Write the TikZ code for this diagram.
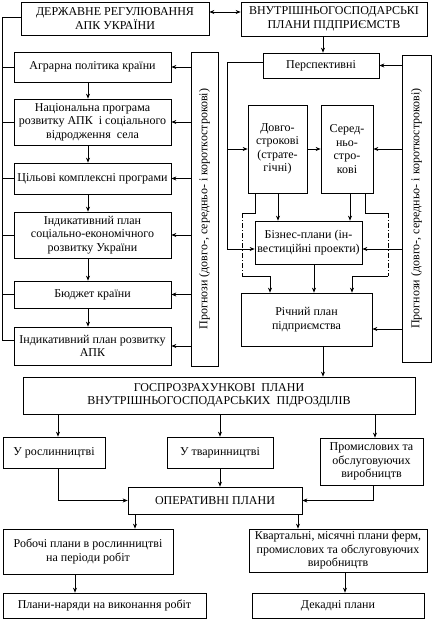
\documentclass[tikz,border=0pt]{standalone}
\usepackage{fontspec}
\setmainfont{Liberation Serif}
\usetikzlibrary{arrows.meta}
\begin{document}
\begin{tikzpicture}[x=1pt,y=-1pt,
  box/.style={draw, line width=0.7pt, inner sep=0pt, align=center, font=\fontsize{12}{13.5}\selectfont},
  arr/.style={-{Stealth[length=5pt,width=4pt]}, line width=0.7pt},
  darr/.style={{Stealth[length=5pt,width=4pt]}-{Stealth[length=5pt,width=4pt]}, line width=0.7pt},
  ln/.style={line width=0.7pt},
  dd/.style={line width=0.7pt, dash pattern=on 5pt off 2pt on 1pt off 2pt}]
\useasboundingbox (0,0) rectangle (432,619);
% top boxes
\node[box, minimum width=188pt, minimum height=33pt] (derzh) at (115,18.5) {ДЕРЖАВНЕ РЕГУЛЮВАННЯ\\АПК УКРАЇНИ};
\node[box, minimum width=186pt, minimum height=34pt] (vnutr) at (334,19) {ВНУТРІШНЬОГОСПОДАРСЬКІ\\ПЛАНИ ПІДПРИЄМСТВ};
% left column
\node[box, minimum width=157pt, minimum height=30pt] (agr) at (92.5,67) {Аграрна політика країни};
\node[box, minimum width=157pt, minimum height=46pt] (nats) at (92.5,122) {Національна програма\\розвитку АПК\ \ і соціального\\відродження\ \ села};
\node[box, minimum width=157pt, minimum height=31pt] (tsil) at (92.5,178.5) {Цільові комплексні програми};
\node[box, minimum width=157pt, minimum height=46pt] (indyk) at (92.5,235) {Індикативний план\\соціально-економічного\\розвитку України};
\node[box, minimum width=157pt, minimum height=27pt] (budg) at (92.5,294.5) {Бюджет країни};
\node[box, minimum width=157pt, minimum height=38pt] (indapk) at (92.5,346) {Індикативний план розвитку\\АПК};
\node[box, minimum width=27pt, minimum height=314pt] (progL) at (204.5,209) {\rotatebox{90}{Прогнози (довго-, середньо- і короткострокові)}};
% right column
\node[box, minimum width=116pt, minimum height=25pt] (persp) at (321,65.5) {Перспективні};
\node[box, minimum width=59pt, minimum height=88pt] (dovho) at (277.5,149) {Довго-\\строкові\\(страте-\\гічні)};
\node[box, minimum width=52pt, minimum height=88pt] (sered) at (347,149) {Серед-\\ньо-\\стро-\\кові};
\node[box, minimum width=107pt, minimum height=43pt] (biz) at (308.5,242.5) {Бізнес-плани (ін-\\вестиційні проекти)};
\node[box, minimum width=131pt, minimum height=53pt] (rich) at (306.5,319.5) {Річний план\\підприємства};
\node[box, minimum width=29pt, minimum height=307pt] (progR) at (416.5,208.5) {\rotatebox{90}{Прогнози (довго-, середньо- і короткострокові)}};
% lower part
\node[box, minimum width=392pt, minimum height=37pt] (hosp) at (219,395.5) {ГОСПРОЗРАХУНКОВІ\ \ ПЛАНИ\\ВНУТРІШНЬОГОСПОДАРСЬКИХ\ \ ПІДРОЗДІЛІВ};
\node[box, minimum width=102pt, minimum height=31pt] (rosl) at (54,452.5) {У рослинництві};
\node[box, minimum width=106pt, minimum height=31pt] (tvar) at (220,452.5) {У тваринництві};
\node[box, minimum width=103pt, minimum height=47pt] (prom) at (371.5,461.5) {Промислових та\\обслуговуючих\\виробництв};
\node[box, minimum width=174pt, minimum height=27pt] (oper) at (215,500.5) {ОПЕРАТИВНІ ПЛАНИ};
\node[box, minimum width=170pt, minimum height=45pt] (rob) at (88,551.5) {Робочі плани в рослинництві\\на періоди робіт};
\node[box, minimum width=178pt, minimum height=43pt] (kvart) at (338,550.5) {Квартальні, місячні плани ферм,\\промислових та обслуговуючих\\виробництв};
\node[box, minimum width=203pt, minimum height=25pt] (naryad) at (104.5,605.5) {Плани-наряди на виконання робіт};
\node[box, minimum width=172pt, minimum height=25pt] (dekad) at (338,605.5) {Декадні плани};
% helper coordinates
\coordinate (ty) at (0,12);
\coordinate (bt) at (2,17);
\coordinate (bb) at (2,340);
\coordinate (xl) at (88,0);
\coordinate (yb) at (0,249);
\coordinate (yr) at (0,329);
\coordinate (py) at (0,62);
\coordinate (lx) at (227,0);
\coordinate (x1) at (278,0);
\coordinate (x2) at (350,0);
\coordinate (x3) at (314,0);
\coordinate (x4) at (323,0);
\coordinate (dl1) at (255,213);
\coordinate (dl2) at (242,276);
\coordinate (dl3) at (270,0);
\coordinate (dr1) at (365,213);
\coordinate (dr2) at (388,276);
\coordinate (dr3) at (352,0);
\coordinate (xa) at (58,0);
\coordinate (xb) at (220,0);
\coordinate (xc) at (375,0);
\coordinate (xd) at (373,0);
\coordinate (xe) at (135,0);
\coordinate (xf) at (298,0);
\coordinate (xg) at (75,0);
\coordinate (xh) at (345,0);
% top link
\draw[darr] (derzh.east |- ty) -- (vnutr.west |- ty);
% left bus
\draw[ln] (derzh.west |- bt) -- (bt) -- (bb) -- (indapk.west |- bb);
\foreach \n in {agr,nats,tsil,indyk,budg} \draw[ln] (bt |- \n.west) -- (\n.west);
% left column chain
\draw[arr] (agr.south -| xl) -- (nats.north -| xl);
\draw[arr] (nats.south -| xl) -- (tsil.north -| xl);
\draw[arr] (tsil.south -| xl) -- (indyk.north -| xl);
\draw[arr] (indyk.south -| xl) -- (budg.north -| xl);
\draw[arr] (budg.south -| xl) -- (indapk.north -| xl);
% forecasts (left)
\foreach \n in {agr,nats,tsil,indyk,budg,indapk} \draw[arr] (progL.west |- \n.east) -- (\n.east);
% right column
\draw[arr] (vnutr.south -| x4) -- (persp.north -| x4);
\draw[arr] (progR.west |- persp.east) -- (persp.east);
\draw[arr] (progR.west |- sered.east) -- (sered.east);
\draw[arr] (progR.west |- yb) -- (biz.east |- yb);
\draw[arr] (progR.west |- yr) -- (rich.east |- yr);
\draw[arr] (persp.west |- py) -- (lx |- py) -- (lx |- yb) -- (biz.west |- yb);
\draw[arr] (lx |- dovho.west) -- (dovho.west);
\draw[arr] (dovho.east) -- (sered.west);
\draw[arr] (dovho.south -| x1) -- (biz.north -| x1);
\draw[arr] (sered.south -| x2) -- (biz.north -| x2);
\draw[ln] (dovho.south -| dl1) -- (dl1) -- (dl2 |- dl1);
\draw[dd] (dl2 |- dl1) -- (dl2);
\draw[arr] (dl2) -- (dl3 |- dl2) -- (rich.north -| dl3);
\draw[ln] (sered.south -| dr1) -- (dr1) -- (dr2 |- dr1);
\draw[dd] (dr2 |- dr1) -- (dr2);
\draw[arr] (dr2) -- (dr3 |- dr2) -- (rich.north -| dr3);
\draw[arr] (biz.south -| x3) -- (rich.north -| x3);
\draw[arr] (rich.south -| x4) -- (hosp.north -| x4);
% lower part
\draw[arr] (hosp.south -| xa) -- (rosl.north -| xa);
\draw[arr] (hosp.south -| xb) -- (tvar.north -| xb);
\draw[arr] (hosp.south -| xc) -- (prom.north -| xc);
\draw[arr] (rosl.south -| xa) -- (xa |- oper.west) -- (oper.west);
\draw[arr] (tvar.south -| xb) -- (oper.north -| xb);
\draw[arr] (prom.south -| xd) -- (xd |- oper.east) -- (oper.east);
\draw[arr] (oper.south -| xe) -- (rob.north -| xe);
\draw[arr] (oper.south -| xf) -- (kvart.north -| xf);
\draw[arr] (rob.south -| xg) -- (naryad.north -| xg);
\draw[arr] (kvart.south -| xh) -- (dekad.north -| xh);
\end{tikzpicture}
\end{document}
